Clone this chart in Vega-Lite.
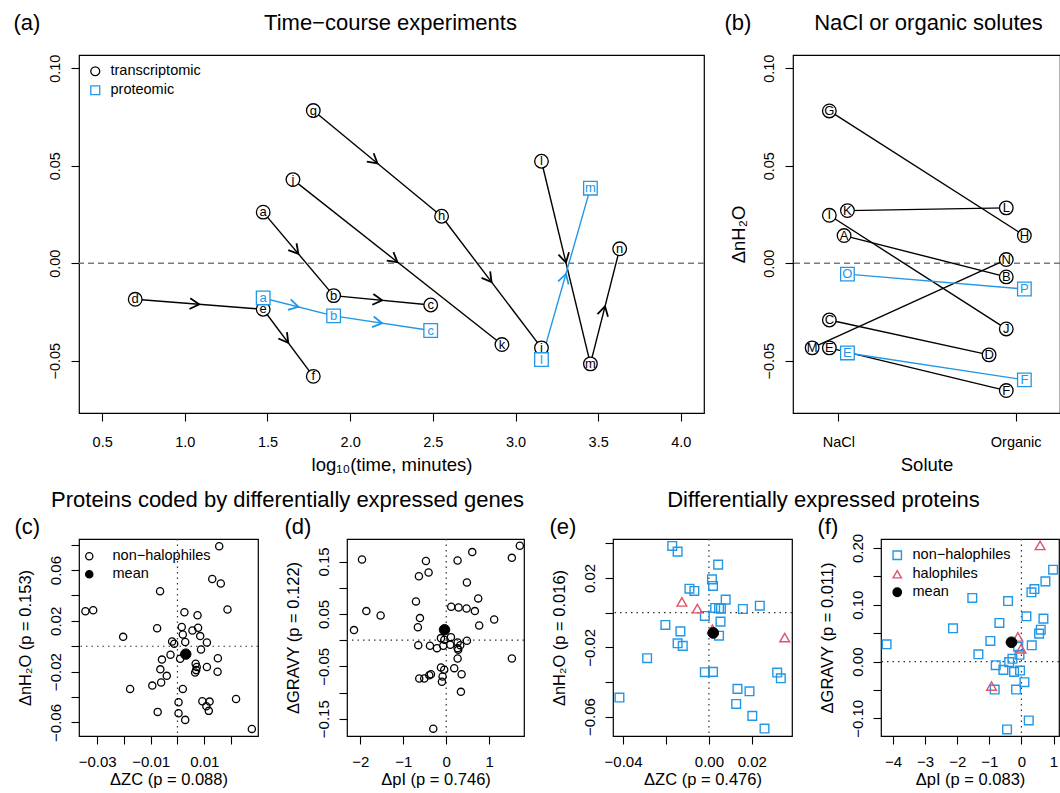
{
"$schema": "https://vega.github.io/schema/vega-lite/v6.json",
"background": "white",
"padding": {"left": 12, "top": 10, "right": 0, "bottom": 0},
"config": {
  "font": "Liberation Sans",
  "view": {"stroke": "black", "strokeWidth": 1.2},
  "axis": {"grid": false, "domain": false, "ticks": true, "tickColor": "black", "tickSize": 8, "tickWidth": 1.1, "labelColor": "black", "labelFontSize": 15, "titleColor": "black", "titleFontSize": 16.5, "titleFontWeight": "normal", "labelOverlap": false, "labelFlush": false, "labelBound": false},
  "legend": {"labelFontSize": 14.5, "labelColor": "black", "padding": 0, "rowPadding": 3, "orient": "none"},
  "title": {"fontWeight": "normal", "color": "black", "font": "Liberation Sans"}
},
"datasets": {
  "a_pts": [
    {"type":"transcriptomic","label":"d","x":0.70,"y":-0.0185},
    {"type":"transcriptomic","label":"e","x":1.474,"y":-0.0236},
    {"type":"transcriptomic","label":"a","x":1.474,"y":0.0262},
    {"type":"transcriptomic","label":"f","x":1.777,"y":-0.0580},
    {"type":"transcriptomic","label":"g","x":1.777,"y":0.0783},
    {"type":"transcriptomic","label":"j","x":1.654,"y":0.0429},
    {"type":"transcriptomic","label":"b","x":1.900,"y":-0.0166},
    {"type":"transcriptomic","label":"c","x":2.487,"y":-0.0214},
    {"type":"transcriptomic","label":"h","x":2.553,"y":0.0241},
    {"type":"transcriptomic","label":"k","x":2.918,"y":-0.0417},
    {"type":"transcriptomic","label":"i","x":3.157,"y":-0.0434},
    {"type":"transcriptomic","label":"l","x":3.157,"y":0.0523},
    {"type":"transcriptomic","label":"m","x":3.453,"y":-0.0516},
    {"type":"transcriptomic","label":"n","x":3.630,"y":0.0074},
    {"type":"proteomic","label":"a","x":1.474,"y":-0.0178},
    {"type":"proteomic","label":"b","x":1.900,"y":-0.0270},
    {"type":"proteomic","label":"c","x":2.487,"y":-0.0345},
    {"type":"proteomic","label":"l","x":3.157,"y":-0.0494},
    {"type":"proteomic","label":"m","x":3.453,"y":0.0385}
  ],
  "a_seg": [
    {"type":"transcriptomic","x":0.70,"y":-0.0185,"x2":1.474,"y2":-0.0236},
    {"type":"transcriptomic","x":1.474,"y":-0.0236,"x2":1.777,"y2":-0.0580},
    {"type":"transcriptomic","x":1.474,"y":0.0262,"x2":1.900,"y2":-0.0166},
    {"type":"transcriptomic","x":1.900,"y":-0.0166,"x2":2.487,"y2":-0.0214},
    {"type":"transcriptomic","x":1.777,"y":0.0783,"x2":2.553,"y2":0.0241},
    {"type":"transcriptomic","x":2.553,"y":0.0241,"x2":3.157,"y2":-0.0434},
    {"type":"transcriptomic","x":1.654,"y":0.0429,"x2":2.918,"y2":-0.0417},
    {"type":"transcriptomic","x":3.157,"y":0.0523,"x2":3.453,"y2":-0.0516},
    {"type":"transcriptomic","x":3.453,"y":-0.0516,"x2":3.630,"y2":0.0074},
    {"type":"proteomic","x":1.474,"y":-0.0178,"x2":1.900,"y2":-0.0270},
    {"type":"proteomic","x":1.900,"y":-0.0270,"x2":2.487,"y2":-0.0345},
    {"type":"proteomic","x":3.157,"y":-0.0494,"x2":3.453,"y2":0.0385}
  ],
  "b_pts": [
    {"type":"transcriptomic","label":"G","x":0.949,"y":0.0781},
    {"type":"transcriptomic","label":"K","x":1.051,"y":0.0270},
    {"type":"transcriptomic","label":"I","x":0.949,"y":0.0246},
    {"type":"transcriptomic","label":"A","x":1.032,"y":0.0142},
    {"type":"transcriptomic","label":"C","x":0.949,"y":-0.0291},
    {"type":"transcriptomic","label":"M","x":0.852,"y":-0.0434},
    {"type":"transcriptomic","label":"E","x":0.949,"y":-0.0434},
    {"type":"transcriptomic","label":"L","x":1.947,"y":0.0284},
    {"type":"transcriptomic","label":"H","x":2.049,"y":0.0142},
    {"type":"transcriptomic","label":"N","x":1.947,"y":0.0019},
    {"type":"transcriptomic","label":"B","x":1.947,"y":-0.0070},
    {"type":"transcriptomic","label":"J","x":1.947,"y":-0.0337},
    {"type":"transcriptomic","label":"D","x":1.850,"y":-0.0470},
    {"type":"transcriptomic","label":"F","x":1.947,"y":-0.0653},
    {"type":"proteomic","label":"O","x":1.051,"y":-0.0056},
    {"type":"proteomic","label":"E","x":1.051,"y":-0.0460},
    {"type":"proteomic","label":"P","x":2.049,"y":-0.0132},
    {"type":"proteomic","label":"F","x":2.049,"y":-0.0598}
  ],
  "b_seg": [
    {"type":"transcriptomic","x":0.949,"y":0.0781,"x2":2.049,"y2":0.0142},
    {"type":"transcriptomic","x":1.051,"y":0.0270,"x2":1.947,"y2":0.0284},
    {"type":"transcriptomic","x":0.949,"y":0.0246,"x2":1.947,"y2":-0.0337},
    {"type":"transcriptomic","x":1.032,"y":0.0142,"x2":1.947,"y2":-0.0070},
    {"type":"transcriptomic","x":0.949,"y":-0.0291,"x2":1.850,"y2":-0.0470},
    {"type":"transcriptomic","x":0.852,"y":-0.0434,"x2":1.947,"y2":0.0019},
    {"type":"transcriptomic","x":0.949,"y":-0.0434,"x2":1.947,"y2":-0.0653},
    {"type":"proteomic","x":1.051,"y":-0.0056,"x2":2.049,"y2":-0.0132},
    {"type":"proteomic","x":1.051,"y":-0.0460,"x2":2.049,"y2":-0.0598}
  ],
  "c": [
    {"g":"non−halophiles","x":0.0156,"y":0.0788},{"g":"non−halophiles","x":0.0130,"y":0.0530},{"g":"non−halophiles","x":0.0162,"y":0.0494},
    {"g":"non−halophiles","x":-0.0065,"y":0.0433},{"g":"non−halophiles","x":-0.0344,"y":0.0276},{"g":"non−halophiles","x":-0.0315,"y":0.0284},
    {"g":"non−halophiles","x":0.0187,"y":0.0289},{"g":"non−halophiles","x":0.0026,"y":0.0268},{"g":"non−halophiles","x":0.0075,"y":0.0244},
    {"g":"non−halophiles","x":-0.0076,"y":0.0142},{"g":"non−halophiles","x":0.0016,"y":0.0152},{"g":"non−halophiles","x":0.0056,"y":0.0124},
    {"g":"non−halophiles","x":0.0077,"y":0.0146},{"g":"non−halophiles","x":0.0020,"y":0.0092},{"g":"non−halophiles","x":0.0085,"y":0.0080},
    {"g":"non−halophiles","x":-0.0203,"y":0.0074},{"g":"non−halophiles","x":0.0029,"y":0.0034},{"g":"non−halophiles","x":-0.0020,"y":0.0038},
    {"g":"non−halophiles","x":-0.0012,"y":0.0020},{"g":"non−halophiles","x":0.0110,"y":0.0030},{"g":"non−halophiles","x":0.0088,"y":-0.0026},
    {"g":"non−halophiles","x":-0.0026,"y":-0.0067},{"g":"non−halophiles","x":-0.0058,"y":-0.0105},{"g":"non−halophiles","x":0.0010,"y":-0.0099},
    {"g":"non−halophiles","x":0.0151,"y":-0.0095},{"g":"non−halophiles","x":0.0068,"y":-0.0137},{"g":"non−halophiles","x":0.0072,"y":-0.0163},
    {"g":"non−halophiles","x":0.0070,"y":-0.0188},{"g":"non−halophiles","x":0.0066,"y":-0.0207},{"g":"non−halophiles","x":-0.0064,"y":-0.0182},
    {"g":"non−halophiles","x":0.0110,"y":-0.0163},{"g":"non−halophiles","x":0.0150,"y":-0.0201},{"g":"non−halophiles","x":-0.0040,"y":-0.0233},
    {"g":"non−halophiles","x":-0.0061,"y":-0.0286},{"g":"non−halophiles","x":-0.0094,"y":-0.0310},{"g":"non−halophiles","x":-0.0177,"y":-0.0336},
    {"g":"non−halophiles","x":0.0020,"y":-0.0336},{"g":"non−halophiles","x":0.0004,"y":-0.0441},{"g":"non−halophiles","x":0.0093,"y":-0.0433},
    {"g":"non−halophiles","x":0.0120,"y":-0.0436},{"g":"non−halophiles","x":0.0108,"y":-0.0473},{"g":"non−halophiles","x":0.0117,"y":-0.0509},
    {"g":"non−halophiles","x":0.0219,"y":-0.0415},{"g":"non−halophiles","x":-0.0074,"y":-0.0517},{"g":"non−halophiles","x":0.0004,"y":-0.0528},
    {"g":"non−halophiles","x":0.0029,"y":-0.0580},{"g":"non−halophiles","x":0.0278,"y":-0.0651},
    {"g":"mean","x":0.0031,"y":-0.0062}
  ],
  "d": [
    {"g":"non−halophiles","x":1.713,"y":0.180},{"g":"non−halophiles","x":0.605,"y":0.168},{"g":"non−halophiles","x":-1.961,"y":0.154},
    {"g":"non−halophiles","x":-0.473,"y":0.151},{"g":"non−halophiles","x":0.264,"y":0.152},{"g":"non−halophiles","x":1.527,"y":0.157},
    {"g":"non−halophiles","x":-0.411,"y":0.129},{"g":"non−halophiles","x":-0.636,"y":0.122},{"g":"non−halophiles","x":0.481,"y":0.110},
    {"g":"non−halophiles","x":-0.705,"y":0.0739},{"g":"non−halophiles","x":0.744,"y":0.0796},{"g":"non−halophiles","x":0.116,"y":0.0637},
    {"g":"non−halophiles","x":0.287,"y":0.0624},{"g":"non−halophiles","x":0.473,"y":0.0605},{"g":"non−halophiles","x":0.667,"y":0.0554},
    {"g":"non−halophiles","x":-1.860,"y":0.0554},{"g":"non−halophiles","x":-1.527,"y":0.0471},{"g":"non−halophiles","x":-0.612,"y":0.0420},
    {"g":"non−halophiles","x":1.116,"y":0.0395},{"g":"non−halophiles","x":0.767,"y":0.0280},{"g":"non−halophiles","x":-0.660,"y":0.0245},
    {"g":"non−halophiles","x":-2.147,"y":0.0191},{"g":"non−halophiles","x":-0.123,"y":0.0038},{"g":"non−halophiles","x":0.109,"y":0.0057},
    {"g":"non−halophiles","x":-0.044,"y":0.0008},{"g":"non−halophiles","x":0.265,"y":-0.0044},{"g":"non−halophiles","x":0.326,"y":-0.0096},
    {"g":"non−halophiles","x":0.481,"y":-0.0011},{"g":"non−halophiles","x":-0.651,"y":-0.0096},{"g":"non−halophiles","x":-0.379,"y":-0.0107},
    {"g":"non−halophiles","x":-0.216,"y":-0.0153},{"g":"non−halophiles","x":-0.070,"y":-0.0107},{"g":"non−halophiles","x":0.093,"y":-0.0088},
    {"g":"non−halophiles","x":0.265,"y":-0.0153},{"g":"non−halophiles","x":0.279,"y":-0.0184},{"g":"non−halophiles","x":0.265,"y":-0.0350},
    {"g":"non−halophiles","x":1.528,"y":-0.0350},{"g":"non−halophiles","x":-0.123,"y":-0.0522},{"g":"non−halophiles","x":-0.047,"y":-0.0566},
    {"g":"non−halophiles","x":0.186,"y":-0.0535},{"g":"non−halophiles","x":-0.356,"y":-0.0650},{"g":"non−halophiles","x":-0.395,"y":-0.0669},
    {"g":"non−halophiles","x":-0.628,"y":-0.0732},{"g":"non−halophiles","x":-0.512,"y":-0.0732},{"g":"non−halophiles","x":-0.084,"y":-0.0694},
    {"g":"non−halophiles","x":-0.100,"y":-0.0796},{"g":"non−halophiles","x":0.358,"y":-0.0650},{"g":"non−halophiles","x":0.342,"y":-0.0987},
    {"g":"non−halophiles","x":-0.302,"y":-0.1690},
    {"g":"mean","x":-0.040,"y":0.0199}
  ],
  "e": [
    {"g":"non−halophiles","x":-0.0171,"y":0.0385},{"g":"non−halophiles","x":-0.0146,"y":0.0352},{"g":"non−halophiles","x":0.0043,"y":0.0277},
    {"g":"non−halophiles","x":0.0014,"y":0.0192},{"g":"non−halophiles","x":0.0019,"y":0.0154},{"g":"non−halophiles","x":-0.0091,"y":0.0138},
    {"g":"non−halophiles","x":-0.0068,"y":0.0125},{"g":"non−halophiles","x":0.0078,"y":0.0075},{"g":"non−halophiles","x":0.0029,"y":0.0027},
    {"g":"non−halophiles","x":0.0047,"y":0.0025},{"g":"non−halophiles","x":0.0056,"y":0.0023},{"g":"non−halophiles","x":0.0158,"y":0.0021},
    {"g":"non−halophiles","x":0.0237,"y":0.0040},{"g":"non−halophiles","x":-0.0019,"y":-0.0019},{"g":"non−halophiles","x":0.0054,"y":-0.0052},
    {"g":"non−halophiles","x":-0.0203,"y":-0.0071},{"g":"non−halophiles","x":-0.0133,"y":-0.0108},{"g":"non−halophiles","x":0.0047,"y":-0.0133},
    {"g":"non−halophiles","x":-0.0146,"y":-0.0177},{"g":"non−halophiles","x":-0.0122,"y":-0.0192},{"g":"non−halophiles","x":-0.0288,"y":-0.0263},
    {"g":"non−halophiles","x":-0.0019,"y":-0.0344},{"g":"non−halophiles","x":0.0019,"y":-0.0342},{"g":"non−halophiles","x":0.0318,"y":-0.0346},
    {"g":"non−halophiles","x":0.0335,"y":-0.0379},{"g":"non−halophiles","x":0.0133,"y":-0.0440},{"g":"non−halophiles","x":0.0189,"y":-0.0454},
    {"g":"non−halophiles","x":-0.0417,"y":-0.0490},{"g":"non−halophiles","x":0.0127,"y":-0.0527},{"g":"non−halophiles","x":0.0202,"y":-0.0596},
    {"g":"non−halophiles","x":0.0259,"y":-0.0669},
    {"g":"halophiles","x":-0.0126,"y":0.0062},{"g":"halophiles","x":-0.0054,"y":0.0023},{"g":"halophiles","x":0.0353,"y":-0.0144},
    {"g":"halophiles","x":0.0016,"y":-0.0096},
    {"g":"mean","x":0.0020,"y":-0.0117}
  ],
  "f": [
    {"g":"non−halophiles","x":-4.20,"y":0.0305},{"g":"non−halophiles","x":-2.13,"y":0.0586},{"g":"non−halophiles","x":-1.53,"y":0.112},
    {"g":"non−halophiles","x":-1.34,"y":0.0129},{"g":"non−halophiles","x":-0.967,"y":0.0363},{"g":"non−halophiles","x":-0.686,"y":0.0680},
    {"g":"non−halophiles","x":-0.80,"y":-0.0064},{"g":"non−halophiles","x":-0.832,"y":-0.0492},{"g":"non−halophiles","x":-0.561,"y":-0.0146},
    {"g":"non−halophiles","x":-0.416,"y":0.1066},{"g":"non−halophiles","x":-0.38,"y":-0.0010},{"g":"non−halophiles","x":-0.28,"y":0.0050},
    {"g":"non−halophiles","x":-0.229,"y":-0.0182},{"g":"non−halophiles","x":-0.10,"y":0.0260},{"g":"non−halophiles","x":-0.06,"y":0.0120},
    {"g":"non−halophiles","x":-0.042,"y":-0.0158},{"g":"non−halophiles","x":-0.166,"y":-0.0492},{"g":"non−halophiles","x":0.094,"y":-0.0363},
    {"g":"non−halophiles","x":0.156,"y":0.0797},{"g":"non−halophiles","x":0.322,"y":0.0287},{"g":"non−halophiles","x":0.312,"y":0.1219},
    {"g":"non−halophiles","x":0.405,"y":0.1277},{"g":"non−halophiles","x":0.551,"y":0.0492},{"g":"non−halophiles","x":0.603,"y":0.0562},
    {"g":"non−halophiles","x":0.686,"y":0.0756},{"g":"non−halophiles","x":0.748,"y":0.1412},{"g":"non−halophiles","x":0.988,"y":0.1617},
    {"g":"non−halophiles","x":0.229,"y":-0.1037},{"g":"non−halophiles","x":-0.447,"y":-0.1195},
    {"g":"halophiles","x":0.582,"y":0.2045},{"g":"halophiles","x":-0.11,"y":0.0434},{"g":"halophiles","x":-0.01,"y":0.0225},
    {"g":"halophiles","x":-0.93,"y":-0.0430},
    {"g":"mean","x":-0.31,"y":0.0340}
  ]
},
"spacing": 12,
"resolve": {
  "scale": {"x": "independent", "y": "independent", "color": "independent", "stroke": "independent", "fill": "independent", "shape": "independent"},
  "legend": {"color": "independent", "stroke": "independent", "fill": "independent", "shape": "independent"}
},
"vconcat": [
  {
    "spacing": 89,
    "bounds": "flush",
    "resolve": {
      "scale": {"x": "independent", "y": "independent", "color": "independent", "stroke": "independent", "fill": "independent", "shape": "independent"},
      "legend": {"color": "independent", "stroke": "independent", "fill": "independent", "shape": "independent"}
    },
    "hconcat": [
      {
        "width": 625, "height": 358,
        "resolve": {"axis": {"x": "independent", "y": "independent"}},
        "layer": [
          {
            "data": {"values": [{"z": 0}]},
            "mark": {"type": "rule", "strokeDash": [6, 4], "color": "#7a7a7a", "strokeWidth": 1.4},
            "encoding": {"y": {"field": "z", "type": "quantitative", "axis": null}}
          },
          {
            "data": {"name": "a_seg"},
            "mark": {"type": "rule", "strokeWidth": 1.4},
            "encoding": {
              "x": {"field": "x", "type": "quantitative", "scale": {"domain": [0.36, 4.14], "nice": false, "zero": false},
                    "axis": {"orient": "bottom", "values": [0.5, 1, 1.5, 2, 2.5, 3, 3.5, 4], "format": ".1f", "labelBaseline": "alphabetic", "labelPadding": 25, "labelAngle": 0, "labelFontSize": 14.5, "title": "log₁₀(time, minutes)", "titleFontSize": 18.5, "titleBaseline": "alphabetic", "titleY": 57}},
              "y": {"field": "y", "type": "quantitative", "scale": {"domain": [-0.0768, 0.1068], "nice": false, "zero": false},
                    "axis": {"orient": "left", "values": [-0.05, 0, 0.05, 0.1], "format": ".2f", "labelAngle": 270, "labelAlign": "center", "labelBaseline": "alphabetic", "labelPadding": 12, "labelFontSize": 14.5,
                             "title": "(a)", "titleAngle": 0, "titleAlign": "left", "titleBaseline": "alphabetic", "titleX": -66, "titleY": -26, "titleFontSize": 22}},
              "x2": {"field": "x2"},
              "y2": {"field": "y2"},
              "color": {"field": "type", "type": "nominal", "scale": {"domain": ["proteomic", "transcriptomic"], "range": ["#2297E6", "black"]}, "legend": null}
            }
          },
          {
            "data": {"name": "a_seg"},
            "transform": [
              {"calculate": "(datum.x + datum.x2) / 2", "as": "xm"},
              {"calculate": "(datum.y + datum.y2) / 2", "as": "ym"},
              {"calculate": "atan2(-(datum.y2 - datum.y) * 1950, (datum.x2 - datum.x) * 165.3) * 180 / PI", "as": "ang"}
            ],
            "mark": {"type": "point", "shape": "M-1,-0.577L0,0L-1,0.577", "filled": false, "size": 350, "strokeWidth": 1.8, "opacity": 1},
            "encoding": {
              "x": {"field": "xm", "type": "quantitative", "axis": null},
              "y": {"field": "ym", "type": "quantitative", "axis": null},
              "angle": {"field": "ang", "type": "quantitative", "scale": null},
              "color": {"field": "type", "type": "nominal", "legend": null}
            }
          },
          {
            "data": {"name": "a_pts"},
            "mark": {"type": "point", "filled": true, "fill": "white", "size": 185, "strokeWidth": 1.3, "opacity": 1},
            "encoding": {
              "x": {"field": "x", "type": "quantitative", "axis": {"orient": "top", "ticks": false, "labels": false, "domain": false, "title": "Time−course experiments", "titleX": 311, "titleY": -26, "titleAlign": "center", "titleBaseline": "alphabetic", "titleFontSize": 22, "titleAngle": 0}},
              "y": {"field": "y", "type": "quantitative", "axis": null},
              "stroke": {"field": "type", "type": "nominal", "scale": {"domain": ["transcriptomic", "proteomic"], "range": ["black", "#2297E6"]},
                         "legend": {"title": null, "legendX": 9, "legendY": 9, "symbolSize": 80, "symbolStrokeWidth": 1.3, "labelOffset": 8}},
              "shape": {"field": "type", "type": "nominal", "scale": {"domain": ["transcriptomic", "proteomic"], "range": ["circle", "square"]},
                        "legend": {"title": null, "legendX": 9, "legendY": 9, "symbolSize": 80, "symbolStrokeWidth": 1.3, "labelOffset": 8}}
            }
          },
          {
            "data": {"name": "a_pts"},
            "mark": {"type": "text", "fontSize": 13, "baseline": "middle", "align": "center"},
            "encoding": {
              "x": {"field": "x", "type": "quantitative", "axis": null},
              "y": {"field": "y", "type": "quantitative", "axis": null},
              "text": {"field": "label"},
              "color": {"field": "type", "type": "nominal", "legend": null}
            }
          }
        ]
      },
      {
        "width": 267, "height": 358,
        "resolve": {"axis": {"x": "independent", "y": "independent"}},
        "layer": [
          {
            "data": {"values": [{"z": 0}]},
            "mark": {"type": "rule", "strokeDash": [6, 4], "color": "#7a7a7a", "strokeWidth": 1.4},
            "encoding": {"y": {"field": "z", "type": "quantitative", "axis": null}}
          },
          {
            "data": {"name": "b_seg"},
            "mark": {"type": "rule", "strokeWidth": 1.4},
            "encoding": {
              "x": {"field": "x", "type": "quantitative", "scale": {"domain": [0.744, 2.25], "nice": false, "zero": false},
                    "axis": {"orient": "bottom", "values": [1, 2], "labelExpr": "datum.value == 1 ? 'NaCl' : 'Organic'", "labelBaseline": "alphabetic", "labelPadding": 25, "labelAngle": 0, "labelFontSize": 14.5, "title": "Solute", "titleFontSize": 18.5, "titleBaseline": "alphabetic", "titleY": 57}},
              "y": {"field": "y", "type": "quantitative", "scale": {"domain": [-0.0768, 0.1068], "nice": false, "zero": false},
                    "axis": {"orient": "left", "values": [-0.05, 0, 0.05, 0.1], "format": ".2f", "labelAngle": 270, "labelAlign": "center", "labelBaseline": "alphabetic", "labelPadding": 12, "labelFontSize": 14.5,
                             "title": "ΔnH₂O", "titleFontSize": 18.5, "titleAngle": 270, "titleAlign": "center", "titleBaseline": "middle", "titleX": -55}},
              "x2": {"field": "x2"},
              "y2": {"field": "y2"},
              "color": {"field": "type", "type": "nominal", "scale": {"domain": ["proteomic", "transcriptomic"], "range": ["#2297E6", "black"]}, "legend": null}
            }
          },
          {
            "data": {"name": "b_pts"},
            "mark": {"type": "point", "filled": true, "fill": "white", "size": 185, "strokeWidth": 1.3, "opacity": 1},
            "encoding": {
              "x": {"field": "x", "type": "quantitative", "axis": {"orient": "top", "ticks": false, "labels": false, "domain": false, "title": "NaCl or organic solutes", "titleX": 135, "titleY": -26, "titleAlign": "center", "titleBaseline": "alphabetic", "titleFontSize": 22, "titleAngle": 0}},
              "y": {"field": "y", "type": "quantitative", "axis": {"orient": "right", "ticks": false, "labels": false, "domain": false, "title": "(b)", "titleAngle": 0, "titleAlign": "left", "titleBaseline": "alphabetic", "titleX": -336, "titleY": -26, "titleFontSize": 22}},
              "stroke": {"field": "type", "type": "nominal", "scale": {"domain": ["transcriptomic", "proteomic"], "range": ["black", "#2297E6"]}, "legend": null},
              "shape": {"field": "type", "type": "nominal", "scale": {"domain": ["transcriptomic", "proteomic"], "range": ["circle", "square"]}, "legend": null}
            }
          },
          {
            "data": {"name": "b_pts"},
            "mark": {"type": "text", "fontSize": 13, "baseline": "middle", "align": "center"},
            "encoding": {
              "x": {"field": "x", "type": "quantitative", "axis": null},
              "y": {"field": "y", "type": "quantitative", "axis": null},
              "text": {"field": "label"},
              "color": {"field": "type", "type": "nominal", "legend": null}
            }
          }
        ]
      }
    ]
  },
  {
    "spacing": 89,
    "bounds": "flush",
    "resolve": {
      "scale": {"x": "independent", "y": "independent", "color": "independent", "stroke": "independent", "fill": "independent", "shape": "independent"},
      "legend": {"color": "independent", "stroke": "independent", "fill": "independent", "shape": "independent"}
    },
    "hconcat": [
      {
        "width": 179, "height": 197,
        "resolve": {"axis": {"x": "independent", "y": "independent"}},
        "layer": [
          {"data": {"values": [{"z": 0}]}, "mark": {"type": "rule", "strokeDash": [1.5, 4], "color": "#333333", "strokeWidth": 1.2}, "encoding": {"x": {"field": "z", "type": "quantitative", "axis": null}}},
          {"data": {"values": [{"z": 0}]}, "mark": {"type": "rule", "strokeDash": [1.5, 4], "color": "#333333", "strokeWidth": 1.2}, "encoding": {"y": {"field": "z", "type": "quantitative", "axis": null}}},
          {
            "data": {"name": "c"},
            "transform": [{"filter": "datum.g != 'mean'"}],
            "mark": {"type": "point", "filled": true, "stroke": "black", "strokeWidth": 1.3, "size": 52, "opacity": 1},
            "encoding": {
              "x": {"field": "x", "type": "quantitative", "scale": {"domain": [-0.0368, 0.0301], "nice": false, "zero": false},
                    "axis": {"values": [-0.03, -0.02, -0.01, 0, 0.01, 0.02], "format": ".2f", "labelExpr": "(abs(datum.value + 0.03) < 1e-6 || abs(datum.value + 0.01) < 1e-6 || abs(datum.value - 0.01) < 1e-6) ? datum.label : ''", "labelBaseline": "alphabetic", "labelPadding": 22, "labelAngle": 0, "title": "ΔZC (p = 0.088)", "titleBaseline": "alphabetic", "titleY": 48}},
              "y": {"field": "y", "type": "quantitative", "scale": {"domain": [-0.0707, 0.0845], "nice": false, "zero": false},
                    "axis": {"values": [-0.06, -0.04, -0.02, 0, 0.02, 0.04, 0.06, 0.08], "format": ".2f", "labelExpr": "(abs(datum.value + 0.06) < 1e-6 || abs(datum.value + 0.02) < 1e-6 || abs(datum.value - 0.02) < 1e-6 || abs(datum.value - 0.06) < 1e-6) ? datum.label : ''", "labelAngle": 270, "labelAlign": "center", "labelBaseline": "alphabetic", "labelPadding": 11, "title": "ΔnH₂O (p = 0.153)", "titleAngle": 270, "titleAlign": "center", "titleBaseline": "middle", "titleX": -54}},
              "fill": {"field": "g", "type": "nominal", "scale": {"domain": ["non−halophiles", "mean"], "range": ["transparent", "black"]},
                       "legend": {"title": null, "legendX": 3, "legendY": 10, "symbolType": "circle", "symbolSize": 52, "symbolStrokeColor": "black", "symbolStrokeWidth": 1.3, "labelOffset": 16}}
            }
          },
          {
            "data": {"name": "c"},
            "transform": [{"filter": "datum.g == 'mean'"}],
            "mark": {"type": "point", "filled": true, "stroke": "black", "strokeWidth": 1, "size": 110, "opacity": 1},
            "encoding": {
              "x": {"field": "x", "type": "quantitative", "axis": {"orient": "top", "ticks": false, "labels": false, "domain": false, "title": "Proteins coded by differentially expressed genes", "titleX": 208, "titleY": -33, "titleAlign": "center", "titleBaseline": "alphabetic", "titleFontSize": 22, "titleAngle": 0}},
              "y": {"field": "y", "type": "quantitative", "axis": {"orient": "right", "ticks": false, "labels": false, "domain": false, "title": "(c)", "titleAngle": 0, "titleAlign": "left", "titleBaseline": "alphabetic", "titleX": -244, "titleY": -6, "titleFontSize": 22}},
              "fill": {"field": "g", "type": "nominal"}
            }
          }
        ]
      },
      {
        "width": 177, "height": 197,
        "resolve": {"axis": {"x": "independent", "y": "independent"}},
        "layer": [
          {"data": {"values": [{"z": 0}]}, "mark": {"type": "rule", "strokeDash": [1.5, 4], "color": "#333333", "strokeWidth": 1.2}, "encoding": {"x": {"field": "z", "type": "quantitative", "axis": null}}},
          {"data": {"values": [{"z": 0}]}, "mark": {"type": "rule", "strokeDash": [1.5, 4], "color": "#333333", "strokeWidth": 1.2}, "encoding": {"y": {"field": "z", "type": "quantitative", "axis": null}}},
          {
            "data": {"name": "d"},
            "transform": [{"filter": "datum.g != 'mean'"}],
            "mark": {"type": "point", "filled": true, "stroke": "black", "strokeWidth": 1.3, "size": 52, "opacity": 1},
            "encoding": {
              "x": {"field": "x", "type": "quantitative", "scale": {"domain": [-2.31, 1.81], "nice": false, "zero": false},
                    "axis": {"values": [-2, -1, 0, 1], "format": "d", "labelBaseline": "alphabetic", "labelPadding": 22, "labelAngle": 0, "title": "ΔpI (p = 0.746)", "titleBaseline": "alphabetic", "titleY": 48}},
              "y": {"field": "y", "type": "quantitative", "scale": {"domain": [-0.183, 0.193], "nice": false, "zero": false},
                    "axis": {"values": [-0.15, -0.1, -0.05, 0, 0.05, 0.1, 0.15], "format": ".2f", "labelExpr": "(abs(abs(datum.value) - 0.15) < 1e-6 || abs(abs(datum.value) - 0.05) < 1e-6) ? datum.label : ''", "labelAngle": 270, "labelAlign": "center", "labelBaseline": "alphabetic", "labelPadding": 11, "title": "ΔGRAVY (p = 0.122)", "titleAngle": 270, "titleAlign": "center", "titleBaseline": "middle", "titleX": -54}},
              "fill": {"field": "g", "type": "nominal", "scale": {"domain": ["non−halophiles", "mean"], "range": ["transparent", "black"]}, "legend": null}
            }
          },
          {
            "data": {"name": "d"},
            "transform": [{"filter": "datum.g == 'mean'"}],
            "mark": {"type": "point", "filled": true, "stroke": "black", "strokeWidth": 1, "size": 110, "opacity": 1},
            "encoding": {
              "x": {"field": "x", "type": "quantitative", "axis": null},
              "y": {"field": "y", "type": "quantitative", "axis": {"orient": "right", "ticks": false, "labels": false, "domain": false, "title": "(d)", "titleAngle": 0, "titleAlign": "left", "titleBaseline": "alphabetic", "titleX": -240, "titleY": -6, "titleFontSize": 22}},
              "fill": {"field": "g", "type": "nominal", "legend": null}
            }
          }
        ]
      },
      {
        "width": 179, "height": 197,
        "resolve": {"axis": {"x": "independent", "y": "independent"}},
        "layer": [
          {"data": {"values": [{"z": 0}]}, "mark": {"type": "rule", "strokeDash": [1.5, 4], "color": "#333333", "strokeWidth": 1.2}, "encoding": {"x": {"field": "z", "type": "quantitative", "axis": null}}},
          {"data": {"values": [{"z": 0}]}, "mark": {"type": "rule", "strokeDash": [1.5, 4], "color": "#333333", "strokeWidth": 1.2}, "encoding": {"y": {"field": "z", "type": "quantitative", "axis": null}}},
          {
            "data": {"name": "e"},
            "transform": [{"filter": "datum.g == 'non−halophiles'"}],
            "mark": {"type": "point", "filled": true, "strokeWidth": 1.4, "size": 75, "opacity": 1},
            "encoding": {
              "x": {"field": "x", "type": "quantitative", "scale": {"domain": [-0.0447, 0.0387], "nice": false, "zero": false},
                    "axis": {"values": [-0.04, -0.02, 0, 0.02], "format": ".2f", "labelExpr": "abs(datum.value + 0.02) < 1e-6 ? '' : datum.label", "labelBaseline": "alphabetic", "labelPadding": 22, "labelAngle": 0, "title": "ΔZC (p = 0.476)", "titleBaseline": "alphabetic", "titleY": 48}},
              "y": {"field": "y", "type": "quantitative", "scale": {"domain": [-0.0712, 0.0425], "nice": false, "zero": false},
                    "axis": {"values": [-0.06, -0.04, -0.02, 0, 0.02, 0.04], "format": ".2f", "labelExpr": "(abs(datum.value + 0.06) < 1e-6 || abs(datum.value + 0.02) < 1e-6 || abs(datum.value - 0.02) < 1e-6) ? datum.label : ''", "labelAngle": 270, "labelAlign": "center", "labelBaseline": "alphabetic", "labelPadding": 11, "title": "ΔnH₂O (p = 0.016)", "titleAngle": 270, "titleAlign": "center", "titleBaseline": "middle", "titleX": -54}},
              "stroke": {"field": "g", "type": "nominal", "scale": {"domain": ["non−halophiles", "halophiles", "mean"], "range": ["#2297E6", "#DF536B", "black"]}, "legend": null},
              "fill": {"field": "g", "type": "nominal", "scale": {"domain": ["non−halophiles", "halophiles", "mean"], "range": ["transparent", "transparent", "black"]}, "legend": null},
              "shape": {"field": "g", "type": "nominal", "scale": {"domain": ["non−halophiles", "halophiles", "mean"], "range": ["square", "triangle-up", "circle"]}, "legend": null}
            }
          },
          {
            "data": {"name": "e"},
            "transform": [{"filter": "datum.g == 'halophiles'"}],
            "mark": {"type": "point", "filled": true, "strokeWidth": 1.4, "size": 95, "opacity": 1},
            "encoding": {
              "x": {"field": "x", "type": "quantitative", "axis": null},
              "y": {"field": "y", "type": "quantitative", "axis": null},
              "stroke": {"field": "g", "type": "nominal", "legend": null},
              "fill": {"field": "g", "type": "nominal", "legend": null},
              "shape": {"field": "g", "type": "nominal", "legend": null}
            }
          },
          {
            "data": {"name": "e"},
            "transform": [{"filter": "datum.g == 'mean'"}],
            "mark": {"type": "point", "filled": true, "strokeWidth": 1, "size": 115, "opacity": 1},
            "encoding": {
              "x": {"field": "x", "type": "quantitative", "axis": {"orient": "top", "ticks": false, "labels": false, "domain": false, "title": "Differentially expressed proteins", "titleX": 210, "titleY": -33, "titleAlign": "center", "titleBaseline": "alphabetic", "titleFontSize": 22, "titleAngle": 0}},
              "y": {"field": "y", "type": "quantitative", "axis": {"orient": "right", "ticks": false, "labels": false, "domain": false, "title": "(e)", "titleAngle": 0, "titleAlign": "left", "titleBaseline": "alphabetic", "titleX": -243, "titleY": -6, "titleFontSize": 22}},
              "stroke": {"field": "g", "type": "nominal", "legend": null},
              "fill": {"field": "g", "type": "nominal", "legend": null},
              "shape": {"field": "g", "type": "nominal", "legend": null}
            }
          }
        ]
      },
      {
        "width": 178, "height": 197,
        "resolve": {"axis": {"x": "independent", "y": "independent"}},
        "layer": [
          {"data": {"values": [{"z": 0}]}, "mark": {"type": "rule", "strokeDash": [1.5, 4], "color": "#333333", "strokeWidth": 1.2}, "encoding": {"x": {"field": "z", "type": "quantitative", "axis": null}}},
          {"data": {"values": [{"z": 0}]}, "mark": {"type": "rule", "strokeDash": [1.5, 4], "color": "#333333", "strokeWidth": 1.2}, "encoding": {"y": {"field": "z", "type": "quantitative", "axis": null}}},
          {
            "data": {"name": "f"},
            "transform": [{"filter": "datum.g == 'non−halophiles'"}],
            "mark": {"type": "point", "filled": true, "strokeWidth": 1.4, "size": 75, "opacity": 1},
            "encoding": {
              "x": {"field": "x", "type": "quantitative", "scale": {"domain": [-4.374, 1.171], "nice": false, "zero": false},
                    "axis": {"values": [-4, -3, -2, -1, 0, 1], "format": "d", "labelBaseline": "alphabetic", "labelPadding": 22, "labelAngle": 0, "title": "ΔpI (p = 0.083)", "titleBaseline": "alphabetic", "titleY": 48}},
              "y": {"field": "y", "type": "quantitative", "scale": {"domain": [-0.131, 0.2158], "nice": false, "zero": false},
                    "axis": {"values": [-0.1, -0.05, 0, 0.05, 0.1, 0.15, 0.2], "format": ".2f", "labelExpr": "(abs(datum.value + 0.1) < 1e-6 || abs(datum.value) < 1e-6 || abs(datum.value - 0.1) < 1e-6 || abs(datum.value - 0.2) < 1e-6) ? datum.label : ''", "labelAngle": 270, "labelAlign": "center", "labelBaseline": "alphabetic", "labelPadding": 11, "title": "ΔGRAVY (p = 0.011)", "titleAngle": 270, "titleAlign": "center", "titleBaseline": "middle", "titleX": -54}},
              "stroke": {"field": "g", "type": "nominal", "scale": {"domain": ["non−halophiles", "halophiles", "mean"], "range": ["#2297E6", "#DF536B", "black"]},
                         "legend": {"title": null, "legendX": 9, "legendY": 9, "symbolSize": 70, "symbolStrokeWidth": 1.4, "labelOffset": 8}},
              "fill": {"field": "g", "type": "nominal", "scale": {"domain": ["non−halophiles", "halophiles", "mean"], "range": ["transparent", "transparent", "black"]},
                       "legend": {"title": null, "legendX": 9, "legendY": 9, "symbolSize": 70, "symbolStrokeWidth": 1.4, "labelOffset": 8}},
              "shape": {"field": "g", "type": "nominal", "scale": {"domain": ["non−halophiles", "halophiles", "mean"], "range": ["square", "triangle-up", "circle"]},
                        "legend": {"title": null, "legendX": 9, "legendY": 9, "symbolSize": 70, "symbolStrokeWidth": 1.4, "labelOffset": 8}}
            }
          },
          {
            "data": {"name": "f"},
            "transform": [{"filter": "datum.g == 'halophiles'"}],
            "mark": {"type": "point", "filled": true, "strokeWidth": 1.4, "size": 95, "opacity": 1},
            "encoding": {
              "x": {"field": "x", "type": "quantitative", "axis": null},
              "y": {"field": "y", "type": "quantitative", "axis": null},
              "stroke": {"field": "g", "type": "nominal"},
              "fill": {"field": "g", "type": "nominal"},
              "shape": {"field": "g", "type": "nominal"}
            }
          },
          {
            "data": {"name": "f"},
            "transform": [{"filter": "datum.g == 'mean'"}],
            "mark": {"type": "point", "filled": true, "strokeWidth": 1, "size": 115, "opacity": 1},
            "encoding": {
              "x": {"field": "x", "type": "quantitative", "axis": null},
              "y": {"field": "y", "type": "quantitative", "axis": {"orient": "right", "ticks": false, "labels": false, "domain": false, "title": "(f)", "titleAngle": 0, "titleAlign": "left", "titleBaseline": "alphabetic", "titleX": -242, "titleY": -6, "titleFontSize": 22}},
              "stroke": {"field": "g", "type": "nominal"},
              "fill": {"field": "g", "type": "nominal"},
              "shape": {"field": "g", "type": "nominal"}
            }
          }
        ]
      }
    ]
  }
]
}
